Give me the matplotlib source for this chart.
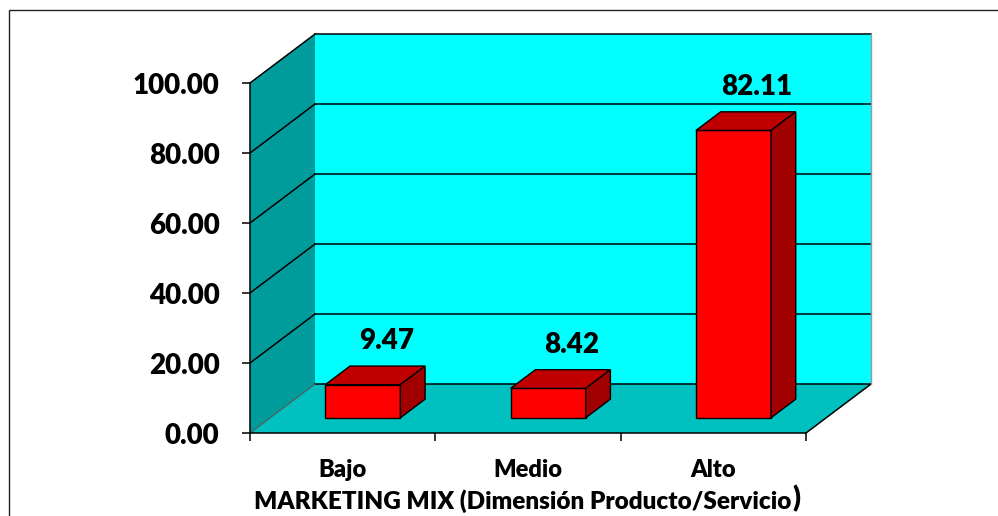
import matplotlib
matplotlib.use('Agg')
import matplotlib.pyplot as plt
from matplotlib.patches import Polygon, Rectangle
from matplotlib.ticker import FormatStrFormatter

categories = ['Bajo', 'Medio', 'Alto']
percentages = [9.47, 8.42, 82.11]
y_ticks = [0, 20, 40, 60, 80, 100]
x_title = 'MARKETING MIX (Dimensión Producto/Servicio'

plt.rcParams['font.family'] = ['Lato', 'DejaVu Sans']
plt.rcParams['font.weight'] = 'heavy'
W = 'heavy'

# fake 3-D box: how far the back plane is shifted (category units, value units)
depth_x, depth_y = 0.351, 14.0
bar_w = 0.405
bar_z0, bar_z1 = 0.31, 0.69

wall_color = '#00FFFF'
side_color = '#009C9C'
floor_color = '#00C0C0'
front_color = '#FF0000'
top_color = '#C00000'
right_color = '#A00000'


def shift(x, y, z):
    return (x + depth_x * z, y + depth_y * z)


def face(ax, pts, color, z=2, lw=1.0):
    ax.add_patch(Polygon(pts, closed=True, facecolor=color, edgecolor='black',
                         linewidth=lw, clip_on=False, zorder=z))


fig = plt.figure(figsize=(9.98, 5.16), dpi=100)
ax = fig.add_axes([250 / 998, 83 / 516, 556 / 998, 350 / 516])
ax.set_xlim(0, len(categories))
ax.set_ylim(0, 100)
ax.patch.set_visible(False)

n = len(categories)
# walls and floor
ax.add_patch(Polygon([shift(0, 0, 1), shift(n, 0, 1), shift(n, 100, 1), shift(0, 100, 1)],
                     facecolor=wall_color, edgecolor='none', clip_on=False, zorder=0))
ax.add_patch(Polygon([(0, 0), shift(0, 0, 1), shift(0, 100, 1), (0, 100)],
                     facecolor=side_color, edgecolor='none', clip_on=False, zorder=0))
ax.add_patch(Polygon([(0, 0), (n, 0), shift(n, 0, 1), shift(0, 0, 1)],
                     facecolor=floor_color, edgecolor='none', clip_on=False, zorder=0))

# gridlines on back wall and side wall
for v in y_ticks:
    bx0, by = shift(0, v, 1)
    bx1, _ = shift(n, v, 1)
    ax.plot([bx0, bx1], [by, by], color='black', lw=1.1, clip_on=False, zorder=1)
    ax.plot([0, bx0], [v, by], color='#555555' if v == 0 else 'black',
            lw=0.8 if v == 0 else 1.1, clip_on=False, zorder=1)
rx, ry = shift(n, 0, 1)
ax.plot([n, rx], [0, ry], color='black', lw=1.1, clip_on=False, zorder=1)
ax.plot([rx, rx], [ry, ry + 100], color='#999999', lw=1.0, clip_on=False, zorder=1)

# bars
for i, v in enumerate(percentages):
    x0 = i + 0.5 - bar_w / 2
    x1 = x0 + bar_w
    face(ax, [shift(x0, 0, bar_z0), shift(x1, 0, bar_z0), shift(x1, v, bar_z0), shift(x0, v, bar_z0)], front_color)
    face(ax, [shift(x0, v, bar_z0), shift(x1, v, bar_z0), shift(x1, v, bar_z1), shift(x0, v, bar_z1)], top_color)
    face(ax, [shift(x1, 0, bar_z0), shift(x1, 0, bar_z1), shift(x1, v, bar_z1), shift(x1, v, bar_z0)], right_color)
    lx, ly = shift(i + 0.56, v + 7.5, 0.5)
    ax.text(lx, ly, '%.2f' % v, ha='center', va='baseline', fontsize=20,
            fontweight=W, zorder=5)

# axes
for s in ['top', 'right']:
    ax.spines[s].set_visible(False)
for s in ['left', 'bottom']:
    ax.spines[s].set_linewidth(1.1)
    ax.spines[s].set_zorder(3)
ax.set_yticks(y_ticks)
ax.yaxis.set_major_formatter(FormatStrFormatter('%.2f'))
ax.tick_params(axis='y', length=6, width=1.1, pad=16, labelsize=20)
ax.set_xticks(range(n + 1))
ax.set_xticklabels([])
ax.set_xticks([i + 0.5 for i in range(n)], categories, minor=True)
ax.tick_params(axis='x', which='minor', length=0, pad=19, labelsize=17)
ax.tick_params(axis='x', which='major', length=6, width=1.1)

xl = ax.set_xlabel(x_title, fontsize=17.5, fontweight=W, labelpad=6)
ax.xaxis.set_label_coords(0.49, -0.16)
ax.annotate(')', xy=(1, 0.5), xycoords=xl, xytext=(1, 1.5), textcoords='offset points',
            ha='left', va='center', fontsize=21, fontweight=W)

# chart frame
fig.patches.append(Rectangle((9 / 998, -0.1), 2, 0.1 + 506 / 516, transform=fig.transFigure,
                             fill=False, edgecolor='#222222', linewidth=1.0))

fig.savefig('out.png', dpi=100)
